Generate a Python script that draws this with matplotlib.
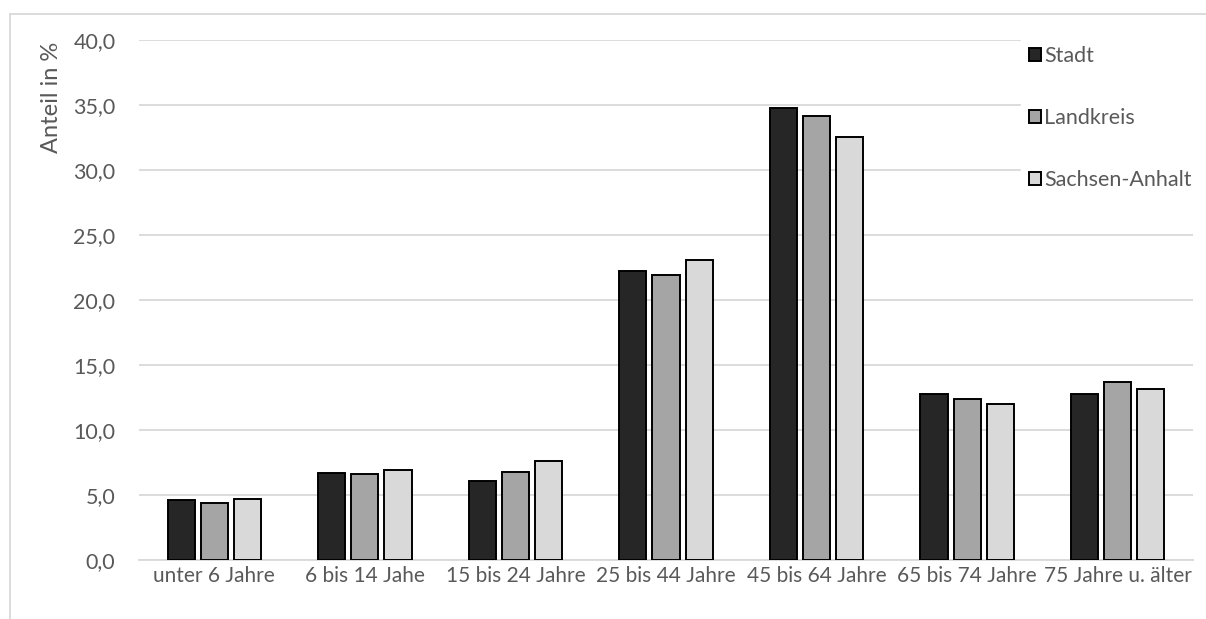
import matplotlib
matplotlib.use("Agg")
import matplotlib.pyplot as plt
import numpy as np
from matplotlib.lines import Line2D

categories = ["unter 6 Jahre", "6 bis 14 Jahe", "15 bis 24 Jahre", "25 bis 44 Jahre",
              "45 bis 64 Jahre", "65 bis 74 Jahre", "75 Jahre u. älter"]
series_names = ["Stadt", "Landkreis", "Sachsen-Anhalt"]
stadt = [4.6, 6.7, 6.05, 22.2, 34.8, 12.75, 12.8]
landkreis = [4.4, 6.6, 6.8, 21.95, 34.15, 12.4, 13.7]
sachsen_anhalt = [4.7, 6.9, 7.6, 23.05, 32.55, 12.0, 13.15]
yticks = [0, 5, 10, 15, 20, 25, 30, 35, 40]
ylabel = "Anteil in %"

colors = ["#262626", "#a5a5a5", "#d9d9d9"]
plt.rcParams['font.family'] = ['Lato', 'DejaVu Sans']

W, H = 1206, 619
fig = plt.figure(figsize=(W / 100, H / 100), dpi=100)
ax = fig.add_axes([139 / W, (H - 560) / H, (1193 - 139) / W, (560 - 40) / H])

x = np.arange(len(categories))
bw = 0.18
step = 0.22
for i, (vals, name) in enumerate(zip([stadt, landkreis, sachsen_anhalt], series_names)):
    ax.bar(x + (i - 1) * step, vals, width=bw, color=colors[i], edgecolor="black",
           linewidth=1.4, label=name, zorder=3)

ax.set_xlim(-0.5, len(categories) - 0.5)
ax.set_ylim(0, 40)
ax.set_yticks(yticks)
ax.set_yticklabels([f"{v:.1f}".replace(".", ",") for v in yticks])
ax.set_xticks(x)
ax.set_xticklabels(categories)
ax.yaxis.grid(True, color="#d9d9d9", linewidth=1.3, zorder=0)
ax.set_axisbelow(True)
for s in ["top", "right", "left"]:
    ax.spines[s].set_visible(False)
ax.spines["bottom"].set_color("#d9d9d9")
ax.spines["bottom"].set_linewidth(1.3)
ax.tick_params(axis="both", length=0, labelsize=15.5, labelcolor="#595959")
ax.tick_params(axis="x", labelsize=15)
ax.tick_params(axis="y", pad=17)
ax.tick_params(axis="x", pad=4)

fig.text(52 / W, 1 - 97 / H, ylabel, rotation=90, ha="center", va="center",
         fontsize=17, color="#595959")

leg = ax.legend(loc="upper left", bbox_to_anchor=(1010 / W, 1 - 27 / H),
                bbox_transform=fig.transFigure, frameon=True, fontsize=15.5,
                labelspacing=1.95, handlelength=0.55, handleheight=0.55,
                handletextpad=0.12, borderpad=0.4, labelcolor="#595959")
leg.get_frame().set_facecolor("white")
leg.get_frame().set_edgecolor("white")
leg.get_frame().set_alpha(1)
leg.get_frame().set_boxstyle("square", pad=0)

# chart border
fig.add_artist(Line2D([10 / W, 1.0], [1 - 14 / H, 1 - 14 / H], transform=fig.transFigure,
                      color="#d9d9d9", linewidth=1.3))
fig.add_artist(Line2D([10 / W, 10 / W], [0, 1 - 14 / H], transform=fig.transFigure,
                      color="#d9d9d9", linewidth=1.3))

fig.savefig("out.png", dpi=100, facecolor="white")
